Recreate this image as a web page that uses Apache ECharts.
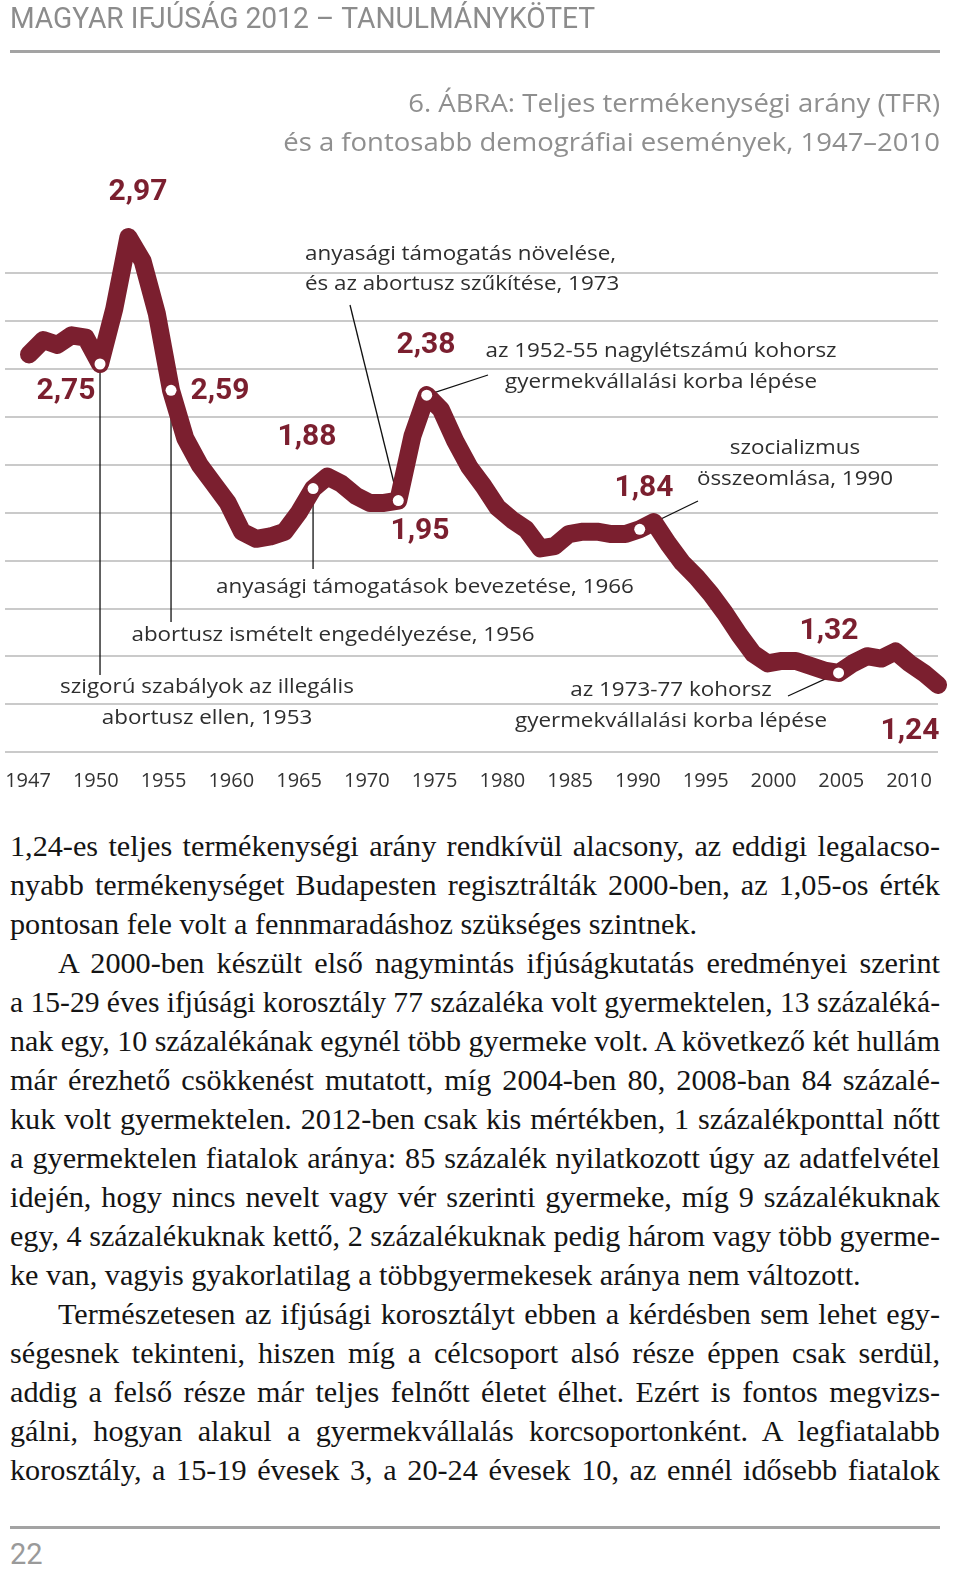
<!DOCTYPE html>
<html>
<head>
<meta charset="utf-8">
<script src="https://cdn.jsdelivr.net/npm/echarts@6/dist/echarts.min.js"></script>
<style>
  html, body { margin: 0; padding: 0; background: #fff; }
  body { width: 960px; height: 1589px; position: relative; overflow: hidden; }
  #chart { position: absolute; left: 0; top: 0; width: 960px; height: 810px; }
  #body { position: absolute; left: 10px; top: 826.5px; width: 930px;
          font-family: "Liberation Serif", "DejaVu Serif", serif; font-size: 28.5px; color: #141414; }
  #body .ln { height: 39.06px; line-height: 39.06px; white-space: nowrap; transform-origin: 0 0; }
  #rule2 { position: absolute; left: 10px; top: 1526px; width: 930px; height: 3px; background: #a3a3a3; }
  #pnum { position: absolute; left: 10px; top: 1537px; font-family: Roboto, sans-serif; font-size: 29px; color: #9a9a9a; }
</style>
</head>
<body>
<div id="chart"></div>
<div id="body">
  <div class="ln">1,24-es teljes termékenységi arány rendkívül alacsony, az eddigi legalacso-</div>
  <div class="ln">nyabb termékenységet Budapesten regisztrálták 2000-ben, az 1,05-os érték</div>
  <div class="ln last">pontosan fele volt a fennmaradáshoz szükséges szintnek.</div>
  <div class="ln ind">A 2000-ben készült első nagymintás ifjúságkutatás eredményei szerint</div>
  <div class="ln">a 15-29 éves ifjúsági korosztály 77 százaléka volt gyermektelen, 13 százaléká-</div>
  <div class="ln">nak egy, 10 százalékának egynél több gyermeke volt. A következő két hullám</div>
  <div class="ln">már érezhető csökkenést mutatott, míg 2004-ben 80, 2008-ban 84 százalé-</div>
  <div class="ln">kuk volt gyermektelen. 2012-ben csak kis mértékben, 1 százalékponttal nőtt</div>
  <div class="ln">a gyermektelen fiatalok aránya: 85 százalék nyilatkozott úgy az adatfelvétel</div>
  <div class="ln">idején, hogy nincs nevelt vagy vér szerinti gyermeke, míg 9 százalékuknak</div>
  <div class="ln">egy, 4 százalékuknak kettő, 2 százalékuknak pedig három vagy több gyerme-</div>
  <div class="ln last">ke van, vagyis gyakorlatilag a többgyermekesek aránya nem változott.</div>
  <div class="ln ind">Természetesen az ifjúsági korosztályt ebben a kérdésben sem lehet egy-</div>
  <div class="ln">ségesnek tekinteni, hiszen míg a célcsoport alsó része éppen csak serdül,</div>
  <div class="ln">addig a felső része már teljes felnőtt életet élhet. Ezért is fontos megvizs-</div>
  <div class="ln">gálni, hogyan alakul a gyermekvállalás korcsoportonként. A legfiatalabb</div>
  <div class="ln">korosztály, a 15-19 évesek 3, a 20-24 évesek 10, az ennél idősebb fiatalok</div>
</div>
<div id="rule2"></div>
<div id="pnum">22</div>
<script>
// ---------------- data ----------------
const years = [1947,1948,1949,1950,1951,1952,1953,1954,1955,1956,1957,1958,1959,1960,
  1961,1962,1963,1964,1965,1966,1967,1968,1969,1970,1971,1972,1973,1974,1975,1976,
  1977,1978,1979,1980,1981,1982,1983,1984,1985,1986,1987,1988,1989,1990,1991,1992,
  1993,1994,1995,1996,1997,1998,1999,2000,2001,2002,2003,2004,2005,2006,2007,2008,
  2009,2010,2011];
const tfr = [2.66,2.72,2.70,2.74,2.73,2.62,2.85,3.15,3.05,2.83,2.51,2.31,2.20,2.12,
  2.04,1.92,1.89,1.90,1.92,2.00,2.10,2.15,2.12,2.07,2.04,2.04,2.05,2.32,2.49,2.43,
  2.30,2.19,2.11,2.02,1.97,1.93,1.85,1.86,1.91,1.92,1.92,1.91,1.91,1.93,1.96,1.87,
  1.79,1.73,1.66,1.58,1.49,1.41,1.37,1.38,1.38,1.36,1.34,1.33,1.37,1.40,1.39,1.42,
  1.37,1.33,1.28];
const tickLabels = ['1947','1950','1955','1960','1965','1970','1975','1980','1985',
  '1990','1995','2000','2005','2010'];
const markedYears = [1952,1957,1967,1973,1975,1990,2004];
const valueLabels = ['2,97','2,75','2,59','1,88','2,38','1,95','1,84','1,32','1,24'];
const eventTexts = [
  ['anyasági támogatás növelése,', 'és az abortusz szűkítése, 1973'],
  ['az 1952-55 nagylétszámú kohorsz', 'gyermekvállalási korba lépése'],
  ['szocializmus', 'összeomlása, 1990'],
  ['anyasági támogatások bevezetése, 1966'],
  ['abortusz ismételt engedélyezése, 1956'],
  ['szigorú szabályok az illegális', 'abortusz ellen, 1953'],
  ['az 1973-77 kohorsz', 'gyermekvállalási korba lépése']
];

// ---------------- layout / style ----------------
const MAROON = '#7b1f2f';
const GRID_BOTTOM_Y = 752, STEP = 47.9; // px per 0.2
const gridTop = GRID_BOTTOM_Y - 11 * STEP;
const valueLabelPos = [[138,192],[66,391],[220,391],[307,437],[426,345],[420,531],[644,488],[829,631],[910,731]];
const eventLayout = [
  {x:305, y:[254,284], align:'left'},
  {x:661, y:[351,382], align:'center'},
  {x:795, y:[448,479], align:'center'},
  {x:425, y:[587], align:'center'},
  {x:333, y:[635], align:'center'},
  {x:207, y:[687,718], align:'center'},
  {x:671, y:[690,721], align:'center'}
];
const leaders = [
  {year:1952, end:[null,675]},
  {year:1957, end:[null,622]},
  {year:1967, end:[null,569]},
  {year:1973, end:[350,305]},
  {year:1975, end:[488,375]},
  {year:1990, end:[698,501]},
  {year:2004, end:[788,696]}
];

const seriesData = years.map((y, i) => {
  const item = { value: [y, tfr[i]] };
  if (markedYears.indexOf(y) >= 0) { item.symbol = 'circle'; item.symbolSize = 11; }
  else { item.symbol = 'none'; }
  return item;
});

const chart = echarts.init(document.getElementById('chart'), null, { renderer: 'canvas' });
const option = {
  animation: false,
  backgroundColor: '#fff',
  grid: [
    { left: 5, right: 22, top: gridTop, bottom: 810 - GRID_BOTTOM_Y },
    { left: 28, right: 51, top: gridTop, bottom: 810 - GRID_BOTTOM_Y }
  ],
  xAxis: [
    { type: 'value', gridIndex: 0, min: 1945.31, max: 2011, show: false },
    { type: 'category', gridIndex: 1, data: tickLabels, boundaryGap: false,
      axisLine: { show: false }, axisTick: { show: false }, splitLine: { show: false },
      axisLabel: { margin: 19, color: '#333', fontFamily: '"Open Sans"', fontSize: 20, interval: 0 } }
  ],
  yAxis: [
    { type: 'value', gridIndex: 0, min: 1.0, max: 3.2, interval: 0.2,
      axisLine: { show: false }, axisTick: { show: false }, axisLabel: { show: false },
      splitLine: { show: true, showMaxLine: false, lineStyle: { color: '#cacaca', width: 2 } } },
    { type: 'value', gridIndex: 1, min: 1.0, max: 3.2, show: false }
  ],
  series: [{
    type: 'line', xAxisIndex: 0, yAxisIndex: 0, data: seriesData,
    clip: false, silent: true, z: 3,
    lineStyle: { color: MAROON, width: 18, cap: 'round', join: 'round' },
    itemStyle: { color: '#ffffff', borderWidth: 0 },
    emphasis: { disabled: true }
  }]
};
chart.setOption(option);

const g = [];
function txt(text, x, y, font, fill, align, sx) {
  g.push({ type: 'text', z: 10, x: x, y: y, scaleX: sx || 1,
    style: { text, x: 0, y: 0, font, fill,
      align: align || 'left', textAlign: align || 'left', verticalAlign: 'middle', textVerticalAlign: 'middle' } });
}
// header
txt('MAGYAR IFJÚSÁG 2012 – TANULMÁNYKÖTET', 10, 20, '30px Roboto', '#8c8c8c', 'left', 0.94);
g.push({ type: 'rect', shape: { x: 10, y: 50, width: 930, height: 3 }, style: { fill: '#a3a3a3' } });
// title
txt('6. ÁBRA: Teljes termékenységi arány (TFR)', 940, 105, '25px "Open Sans"', '#8f8f8f', 'right', 1.1);
txt('és a fontosabb demográfiai események, 1947–2010', 940, 144, '25px "Open Sans"', '#8f8f8f', 'right', 1.1);
// value labels
valueLabels.forEach((t, i) => txt(t, valueLabelPos[i][0], valueLabelPos[i][1], 'bold 30px Roboto', MAROON, 'center', 1));
// event texts
eventTexts.forEach((lines, i) => {
  const L = eventLayout[i];
  lines.forEach((t, j) => txt(t, L.x, L.y[j], '20px "Open Sans"', '#2e2e2e', L.align, 1.12));
});
// leaders
leaders.forEach(l => {
  const idx = years.indexOf(l.year);
  const p = chart.convertToPixel({ seriesIndex: 0 }, [years[idx], tfr[idx]]);
  const ex = l.end[0] === null ? p[0] : l.end[0];
  g.push({ type: 'line', z: 1, shape: { x1: p[0], y1: p[1], x2: ex, y2: l.end[1] },
    style: { stroke: '#111', lineWidth: 1.3 } });
});
chart.setOption({ graphic: { elements: g } });

// ---------------- body text fitting (justified lines) ----------------
const S = 1.06, FULL = 930, INDENT = 48;
document.querySelectorAll('#body .ln').forEach(div => {
  const isLast = div.classList.contains('last');
  const indent = div.classList.contains('ind') ? INDENT : 0;
  const avail = FULL - indent;
  const span = document.createElement('span');
  span.textContent = div.textContent;
  div.textContent = '';
  div.appendChild(span);
  const w = span.getBoundingClientRect().width;
  div.style.marginLeft = indent + 'px';
  if (isLast) {
    div.style.width = (avail / S) + 'px';
    div.style.transform = 'scaleX(' + S + ')';
    div.style.textAlign = 'left';
  } else if (w * S > avail) {
    div.style.width = w + 'px';
    div.style.transform = 'scaleX(' + (avail / w) + ')';
    div.style.textAlign = 'left';
  } else {
    div.style.width = (avail / S) + 'px';
    div.style.transform = 'scaleX(' + S + ')';
    div.style.textAlign = 'justify';
    div.style.textAlignLast = 'justify';
  }
});
</script>
</body>
</html>
